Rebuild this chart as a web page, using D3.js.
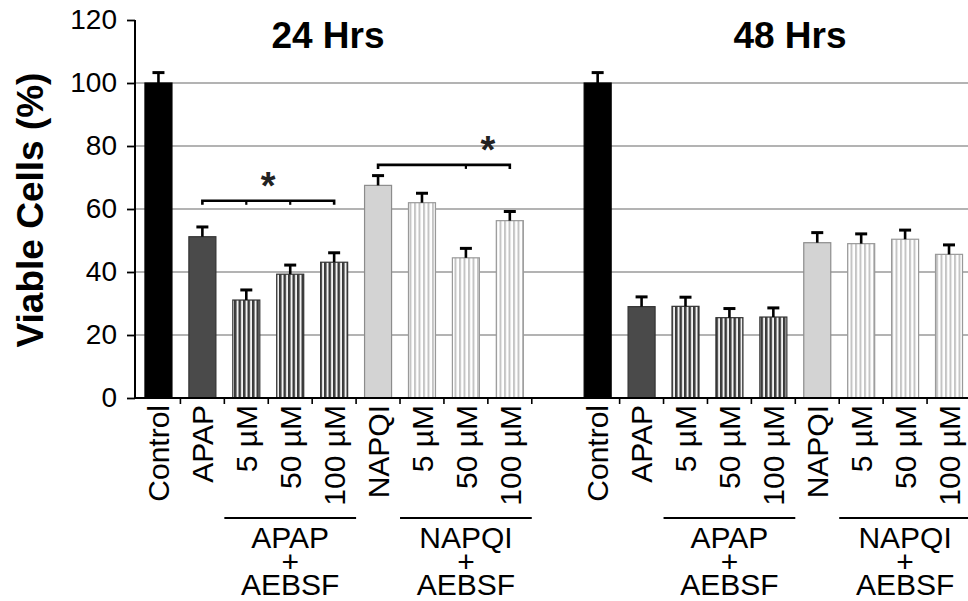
<!DOCTYPE html>
<html>
<head>
<meta charset="utf-8">
<script src="https://cdn.jsdelivr.net/npm/d3@7"></script>
<style>
  body { margin: 0; background: #fff; }
  svg { display: block; font-family: "Liberation Sans", Arial, sans-serif; }
</style>
</head>
<body>
<div id="chart"></div>
<script>
var svgWidth = 968;
var svgHeight = 601;

// data
var timepoints = ["24 Hrs", "48 Hrs"];
var categories = ["Control", "APAP", "5 µM", "50 µM", "100 µM", "NAPQI", "5 µM", "50 µM", "100 µM"];
var kinds = ["control", "apap", "apapAe", "apapAe", "apapAe", "napqi", "napqiAe", "napqiAe", "napqiAe"];
var viable24 = [100, 51.2, 31.1, 39.3, 43.1, 67.5, 62.0, 44.5, 56.3];
var sem24 = [3.3, 3.1, 3.2, 2.9, 3.0, 3.1, 3.0, 3.0, 2.9];
var viable48 = [100, 29.0, 29.1, 25.5, 25.7, 49.3, 49.0, 50.4, 45.6];
var sem48 = [3.3, 3.1, 2.9, 2.9, 2.9, 3.2, 3.1, 2.9, 3.0];
var yTicks = [0, 20, 40, 60, 80, 100, 120];
var gridValues = [20, 40, 60, 80, 100];
var comboNames = ["APAP", "NAPQI"];
var comboSlots = [[2, 4], [6, 8]];
// significance brackets (24 h only)
var brackets = [
  {from: 1, to: 4, marks: [2, 3], level: 62.6, star: 2.5},
  {from: 5, to: 8, marks: [7], level: 74.0, star: 7.5}
];

var margin = {top: 20, left: 136.5};
var step = 43.92;

var svg = d3.select("#chart")
  .append("svg")
  .attr("width", svgWidth)
  .attr("height", svgHeight);

var defs = svg.append("defs");
function stripes(id, dark, light, darkW, period) {
  var p = defs.append("pattern")
    .attr("id", id)
    .attr("patternUnits", "userSpaceOnUse")
    .attr("width", period)
    .attr("height", 10);
  p.append("rect").attr("width", period).attr("height", 10).attr("fill", light);
  p.append("rect").attr("width", darkW).attr("height", 10).attr("fill", dark);
}
stripes("darkStripes", "#3a3a3a", "#f2f2f2", 2.5, 4.5);
stripes("lightStripes", "#c4c4c4", "#ffffff", 2, 4.5);

var fills = {control: "#000", apap: "#4a4a4a", apapAe: "url(#darkStripes)", napqi: "#d3d3d3", napqiAe: "url(#lightStripes)"};
var borders = {control: "#000", apap: "#333", apapAe: "#333", napqi: "#8c8c8c", napqiAe: "#999"};

var slots = [];
var rows = [];
timepoints.forEach(function(t, ti) {
  var vals = ti === 0 ? viable24 : viable48;
  var errs = ti === 0 ? sem24 : sem48;
  categories.forEach(function(c, ci) {
    var key = ti + "-" + ci;
    slots.push(key);
    rows.push({key: key, t: ti, i: ci, label: c, kind: kinds[ci], value: vals[ci], err: errs[ci]});
  });
  if (ti === 0) slots.push("gap");
});

var x = d3.scaleBand()
  .domain(slots)
  .range([margin.left, margin.left + slots.length * step])
  .paddingInner(0.385)
  .paddingOuter(0.1925);

var y = d3.scaleLinear()
  .domain([0, 120])
  .range([398, 20]);

function slotStart(key) { return x(key) - x.step() * x.paddingInner() / 2; }
function center(key) { return x(key) + x.bandwidth() / 2; }

// gridlines
svg.append("g").selectAll("line")
  .data(gridValues)
  .enter()
  .append("line")
  .attr("x1", 135)
  .attr("x2", svgWidth)
  .attr("y1", d => y(d))
  .attr("y2", d => y(d))
  .attr("stroke", "#9a9a9a")
  .attr("stroke-width", 1.6);

// bars
svg.append("g").selectAll("rect")
  .data(rows)
  .enter()
  .append("rect")
  .attr("x", d => x(d.key))
  .attr("y", d => y(d.value))
  .attr("width", x.bandwidth())
  .attr("height", d => y(0) - y(d.value))
  .attr("fill", d => fills[d.kind])
  .attr("stroke", d => borders[d.kind])
  .attr("stroke-width", 1.2);

// error bars
var errG = svg.append("g").attr("stroke", "#000");
errG.selectAll("line.stem")
  .data(rows)
  .enter()
  .append("line")
  .attr("class", "stem")
  .attr("x1", d => center(d.key))
  .attr("x2", d => center(d.key))
  .attr("y1", d => y(d.value))
  .attr("y2", d => y(d.value + d.err))
  .attr("stroke-width", 2.6);
errG.selectAll("line.cap")
  .data(rows)
  .enter()
  .append("line")
  .attr("class", "cap")
  .attr("x1", d => center(d.key) - 6)
  .attr("x2", d => center(d.key) + 6)
  .attr("y1", d => y(d.value + d.err))
  .attr("y2", d => y(d.value + d.err))
  .attr("stroke-width", 3);

// y axis
var leftAxis = d3.axisLeft(y).tickValues(yTicks).tickSize(8).tickPadding(10);
var yAxisG = svg.append("g")
  .attr("transform", "translate(135,0)")
  .call(leftAxis);
yAxisG.select(".domain").attr("stroke-width", 2).attr("d", "M0," + y(120) + "V" + y(0));
yAxisG.selectAll(".tick line").attr("stroke-width", 1.8);
yAxisG.selectAll(".tick text")
  .attr("font-size", 28)
  .attr("font-family", "Liberation Sans, Arial, sans-serif")
  .attr("fill", "#000");

// x axis line and slot ticks
svg.append("line")
  .attr("x1", 134)
  .attr("x2", svgWidth)
  .attr("y1", y(0))
  .attr("y2", y(0))
  .attr("stroke", "#000")
  .attr("stroke-width", 2);
svg.append("g").selectAll("line")
  .data(rows.filter(d => !(d.i === 0)))
  .enter()
  .append("line")
  .attr("x1", d => slotStart(d.key))
  .attr("x2", d => slotStart(d.key))
  .attr("y1", y(0))
  .attr("y2", y(0) + 6)
  .attr("stroke", "#000")
  .attr("stroke-width", 1.6);
svg.append("line")
  .attr("x1", slotStart("gap"))
  .attr("x2", slotStart("gap"))
  .attr("y1", y(0))
  .attr("y2", y(0) + 6)
  .attr("stroke", "#000")
  .attr("stroke-width", 1.6);

// category labels
svg.append("g").selectAll("text")
  .data(rows)
  .enter()
  .append("text")
  .attr("transform", d => `translate(${center(d.key)}, 405) rotate(-90)`)
  .attr("dy", "0.36em")
  .attr("text-anchor", "end")
  .attr("font-size", 30)
  .attr("fill", "#000")
  .text(d => d.label);

// combination group labels
timepoints.forEach(function(t, ti) {
  comboSlots.forEach(function(s, gi) {
    var a = ti + "-" + s[0], b = ti + "-" + s[1];
    var mid = ti + "-" + (s[0] + 1);
    svg.append("line")
      .attr("x1", slotStart(a))
      .attr("x2", slotStart(b) + x.step())
      .attr("y1", 518)
      .attr("y2", 518)
      .attr("stroke", "#000")
      .attr("stroke-width", 2.2);
    var txt = svg.append("text")
      .attr("x", center(mid))
      .attr("text-anchor", "middle")
      .attr("font-size", 30)
      .attr("fill", "#000");
    [comboNames[gi], "+", "AEBSF"].forEach(function(line, li) {
      txt.append("tspan")
        .attr("x", center(mid))
        .attr("y", 548 + li * 23.5)
        .text(line);
    });
  });
});

// significance brackets
var brG = svg.append("g").attr("stroke", "#000").attr("fill", "none");
brackets.forEach(function(b) {
  var yy = y(b.level);
  brG.append("path")
    .attr("d", `M${center("0-" + b.from)},${yy + 4}V${yy}H${center("0-" + b.to)}V${yy + 4}`)
    .attr("stroke-width", 2.6);
  b.marks.forEach(function(m) {
    brG.append("line")
      .attr("x1", center("0-" + m))
      .attr("x2", center("0-" + m))
      .attr("y1", yy)
      .attr("y2", yy + 4)
      .attr("stroke-width", 2.2);
  });
  var sx = x("0-" + Math.floor(b.star)) + x.bandwidth() / 2 + (b.star % 1) * x.step();
  svg.append("text")
    .attr("x", sx)
    .attr("y", yy - 2)
    .attr("text-anchor", "middle")
    .attr("font-size", 38)
    .attr("font-weight", "bold")
    .attr("fill", "#222")
    .text("*");
});

// titles
var titleX = [328, 790];
svg.append("g").selectAll("text")
  .data(timepoints)
  .enter()
  .append("text")
  .attr("x", (d, i) => titleX[i])
  .attr("y", 48)
  .attr("text-anchor", "middle")
  .attr("font-size", 37)
  .attr("font-weight", "bold")
  .attr("fill", "#000")
  .text(d => d);

// y label
svg.append("text")
  .attr("transform", "translate(43, 210) rotate(-90)")
  .attr("text-anchor", "middle")
  .attr("font-size", 37)
  .attr("font-weight", "bold")
  .attr("fill", "#000")
  .text("Viable Cells (%)");
</script>
</body>
</html>
